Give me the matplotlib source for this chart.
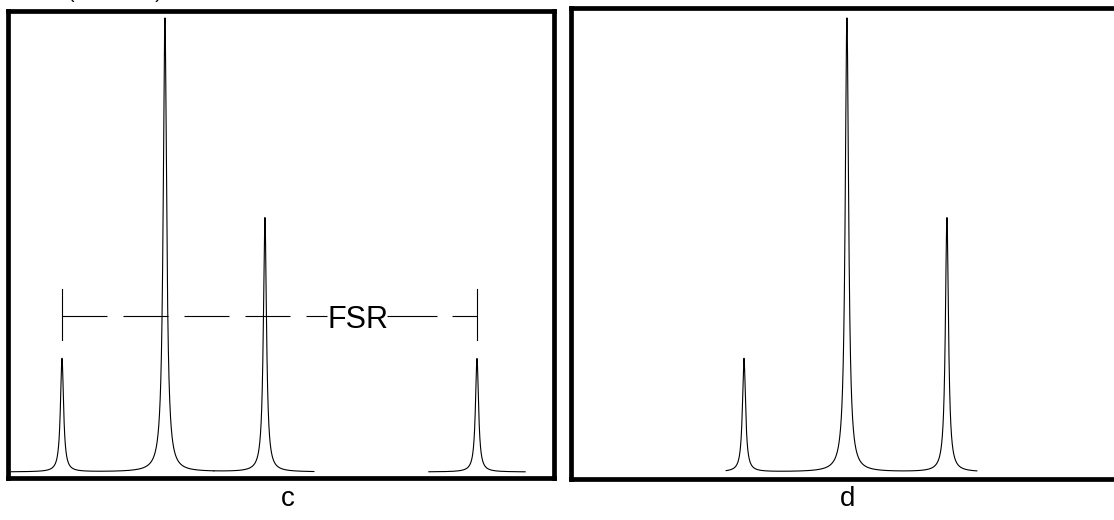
import numpy as np
import matplotlib
matplotlib.use("Agg")
import matplotlib.pyplot as plt

plt.rcParams['font.family'] = ['Liberation Sans', 'DejaVu Sans']

# ---- data (x in units of the free spectral range, y normalised to tallest peak) ----
peak_pos_c = [0.0, 0.248, 0.489, 1.0]
peak_height_c = [0.25, 1.0, 0.56, 0.25]
peak_fwhm_c = [0.009, 0.010, 0.009, 0.009]
segments_c = [(-0.123, 0.366), (0.366, 0.607), (0.884, 1.116)]

peak_pos_d = [0.0, 0.248, 0.489]
peak_height_d = [0.25, 1.0, 0.56]
peak_fwhm_d = [0.009, 0.010, 0.009]
segments_d = [(-0.043, 0.561)]

panel_labels = ["c", "d"]
fsr_label = "FSR"
fsr_range = (0.0, 1.0)
fsr_level = 0.344
top_label = "(arb. units)"


def spectrum(x, pos, h, w):
    y = np.zeros_like(x)
    for p, a, f in zip(pos, h, w):
        g = f / 2.0
        y += a / (1.0 + ((x - p) / g) ** 2)
    return y


W, H = 1114, 520
fig = plt.figure(figsize=(W / 100, H / 100), dpi=100)
fig.patch.set_facecolor("white")


def px_axes(x0, x1, ytop, ybot):
    return fig.add_axes([x0 / W, 1 - ybot / H, (x1 - x0) / W, (ybot - ytop) / H])


axc = px_axes(7.5, 554, 11, 478)
axd = px_axes(571, 1125, 7.5, 478.5)

scale = 415.0  # px per FSR
ypx = 454.0    # px per unit height

axc.set_xlim((7.5 - 62) / scale, (554 - 62) / scale)
axc.set_ylim(-(478 - 472) / ypx, (472 - 11) / ypx)
axd.set_xlim((571 - 744) / scale, (1125 - 744) / scale)
axd.set_ylim(-(478.5 - 472) / ypx, (472 - 7.5) / ypx)

for ax in (axc, axd):
    ax.set_xticks([])
    ax.set_yticks([])
    for s in ax.spines.values():
        s.set_linewidth(3.4)
        s.set_color("black")

for (a, b) in segments_c:
    x = np.linspace(a, b, 3000)
    axc.plot(x, spectrum(x, peak_pos_c, peak_height_c, peak_fwhm_c), color="black", lw=0.8)
for (a, b) in segments_d:
    x = np.linspace(a, b, 4000)
    axd.plot(x, spectrum(x, peak_pos_d, peak_height_d, peak_fwhm_d), color="black", lw=0.8)

# FSR marker
lw = 0.8
x_txt = 0.713
gapL, gapR = 0.639, 0.783
axc.plot([fsr_range[0], gapL], [fsr_level, fsr_level], color="black", lw=lw,
         linestyle=(0, (45 * 0.72 / lw, 16 * 0.72 / lw)))
axc.plot([gapR, fsr_range[1]], [fsr_level, fsr_level], color="black", lw=lw,
         linestyle=(0, (50 * 0.72 / lw, 15 * 0.72 / lw)))
for xe in fsr_range:
    axc.plot([xe, xe], [0.291, 0.403], color="black", lw=lw)
axc.text(x_txt, (472 - 328) / ypx, fsr_label, ha="center", va="baseline", fontsize=22)

fig.text(288 / W, 1 - 506 / H, panel_labels[0], ha="center", va="baseline", fontsize=20)
fig.text(848 / W, 1 - 506 / H, panel_labels[1], ha="center", va="baseline", fontsize=20)
fig.text(68 / W, 1 + 2.5 / H, top_label, ha="left", va="baseline", fontsize=14)

fig.savefig("out.png", dpi=100, facecolor="white")
